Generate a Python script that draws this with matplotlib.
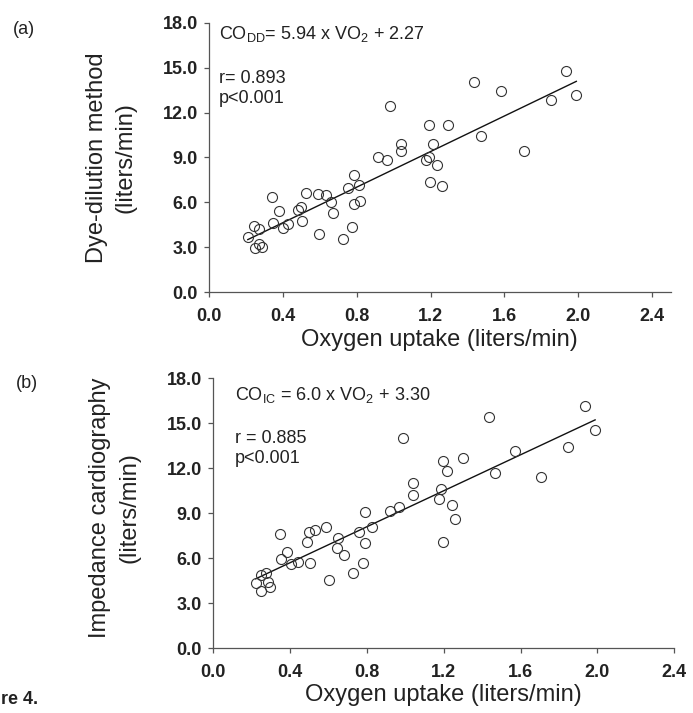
#!/usr/bin/env python3
# fig4 -- cardiac output vs oxygen uptake, dye-dilution (a) and impedance cardiography (b)
import numpy as np
import matplotlib
matplotlib.use('Agg')
import matplotlib.pyplot as plt
from matplotlib.ticker import FormatStrFormatter

plt.rcParams['font.family'] = ['Liberation Sans', 'DejaVu Sans']
plt.rcParams['mathtext.fontset'] = 'custom'
plt.rcParams['mathtext.rm'] = 'Liberation Sans'

# panel (a): VO2 vs CO by dye dilution
vo2_a = [1.435, 1.582, 0.981, 1.19, 1.295, 1.037, 1.037, 1.211, 1.473, 1.707,
         0.917, 0.965, 1.177, 1.19, 1.237, 1.195, 1.259, 0.786, 0.814, 0.75,
         0.786, 0.819, 0.777, 0.723, 0.596, 0.523, 0.59, 0.635, 0.659, 0.672,
         0.496, 0.483, 0.501, 0.341, 0.378, 0.345, 0.4, 0.428, 0.241, 0.272,
         0.21, 0.247, 0.287, 0.272, 1.935, 1.853, 1.989]
co_dd = [14.02, 13.42, 12.44, 11.15, 11.15, 9.89, 9.44, 9.93, 10.42, 9.46,
         9.04, 8.82, 8.82, 9.0, 8.47, 7.35, 7.13, 7.82, 7.15, 6.97,
         5.89, 6.11, 4.37, 3.53, 3.89, 6.6, 6.55, 6.5, 6.04, 5.31,
         5.71, 5.49, 4.77, 6.33, 5.44, 4.6, 4.27, 4.55, 4.42, 4.2,
         3.71, 2.93, 3.04, 3.2, 14.79, 12.86, 13.14]

# panel (b): VO2 vs CO by impedance cardiography
vo2_b = [1.4375, 0.99, 1.571, 1.198, 1.302, 1.216, 1.467, 1.042, 1.042, 1.184,
         1.174, 1.242, 1.259, 1.198, 0.969, 0.92, 0.79, 0.825, 0.76, 0.79,
         0.781, 0.729, 0.604, 0.59, 0.53, 0.5, 0.49, 0.504, 0.651, 0.643,
         0.681, 0.347, 0.385, 0.353, 0.408, 0.443, 0.252, 0.278, 0.222, 0.252,
         0.295, 0.285, 1.936, 1.988, 1.849, 1.707]
co_ic = [15.44, 14.0, 13.17, 12.49, 12.67, 11.82, 11.67, 11.0, 10.22, 10.62,
         9.93, 9.55, 8.6, 7.07, 9.44, 9.15, 9.11, 8.11, 7.77, 7.04,
         5.67, 5.0, 4.55, 8.11, 7.89, 7.77, 7.11, 5.71, 7.33, 6.67,
         6.22, 7.62, 6.44, 5.93, 5.6, 5.77, 4.89, 5.0, 4.37, 3.82,
         4.07, 4.4, 16.17, 14.57, 13.43, 11.44]

# regression coefficients (slope, intercept) as printed
fit_a = (5.94, 2.27)
fit_b = (6.0, 3.30)

x_ticks = [0.0, 0.4, 0.8, 1.2, 1.6, 2.0, 2.4]
y_ticks = [0.0, 3.0, 6.0, 9.0, 12.0, 15.0, 18.0]

W, H = 693, 713
fig = plt.figure(figsize=(W / 100, H / 100), dpi=100)

def px_axes(l, t, r, b):
    return fig.add_axes([l / W, 1 - b / H, (r - l) / W, (b - t) / H])

ax_a = px_axes(209, 22.7, 670.7, 292.3)
ax_b = px_axes(213, 378.3, 674.3, 648.3)

def style(ax, x, y, fit, xmax, ylabel, eq, r_txt, txt_x, eq_y, r_y):
    ax.plot(x, y, 'o', ms=7.2, mfc='none', mec='#333333', mew=0.8, zorder=3)
    xs = np.array([min(x), max(x)])
    ax.plot(xs, fit[0] * xs + fit[1], color='#111111', lw=1.0, zorder=2)
    ax.set_xlim(0, xmax)
    ax.set_ylim(0, 18)
    ax.set_xticks(x_ticks)
    ax.set_yticks(y_ticks)
    ax.xaxis.set_major_formatter(FormatStrFormatter('%.1f'))
    ax.yaxis.set_major_formatter(FormatStrFormatter('%.1f'))
    for s in ['top', 'right']:
        ax.spines[s].set_visible(False)
    for s in ['left', 'bottom']:
        ax.spines[s].set_color('#555555')
        ax.spines[s].set_linewidth(0.9)
    ax.tick_params(direction='out', length=3.6, width=0.9, color='#555555',
                   labelsize=13)
    ax.tick_params(axis='x', pad=8)
    ax.tick_params(axis='y', pad=4.4)
    for lab in ax.get_xticklabels() + ax.get_yticklabels():
        lab.set_fontweight('bold')
        lab.set_color('#222222')
    ax.set_xlabel('Oxygen uptake (liters/min)', fontsize=17, color='#222222')
    ax.set_ylabel(ylabel, fontsize=17, color='#222222', linespacing=1.4,
                  ha='center', va='center')
    # text block in pixel offsets from the axes' top-left
    ax.text(txt_x, eq_y, eq, transform=ax.transAxes, fontsize=13,
            va='center', ha='left', color='#222222')
    ax.text(txt_x, r_y, r_txt, transform=ax.transAxes, fontsize=13,
            va='center', ha='left', color='#222222', linespacing=1.25)

style(ax_a, vo2_a, co_dd, fit_a, 2.5,
      'Dye-dilution method\n(liters/min)',
      r'CO$_{\mathregular{DD}}$= 5.94 x VO$_{\mathregular{2}}$ + 2.27',
      'r= 0.893\np<0.001', 10 / 461.7, 1 - 11 / 269.6, 1 - 66 / 269.6)
ax_a.yaxis.set_label_coords(-0.212, 0.5)
ax_a.xaxis.set_label_coords(0.5, -0.136)

style(ax_b, vo2_b, co_ic, fit_b, 2.4,
      'Impedance cardiography\n(liters/min)',
      r'CO$_{\mathregular{IC}}$ = 6.0 x VO$_{\mathregular{2}}$ + 3.30',
      'r = 0.885\np<0.001', 22 / 461.3, 1 - 17 / 270, 1 - 70 / 270)
ax_b.yaxis.set_label_coords(-0.213, 0.52)
ax_b.xaxis.set_label_coords(0.5, -0.132)

fig.text(24 / W, 1 - 30 / H, '(a)', fontsize=13, ha='center', va='center',
         color='#222222')
fig.text(27 / W, 1 - 384 / H, '(b)', fontsize=13, ha='center', va='center',
         color='#222222')
# caption is cropped in the source image; only its tail is visible
fig.text(1 / W, 1 - 700 / H, 're 4.', fontsize=13, fontweight='bold',
         ha='left', va='center', color='#222222')

fig.savefig('out.png', dpi=100)
